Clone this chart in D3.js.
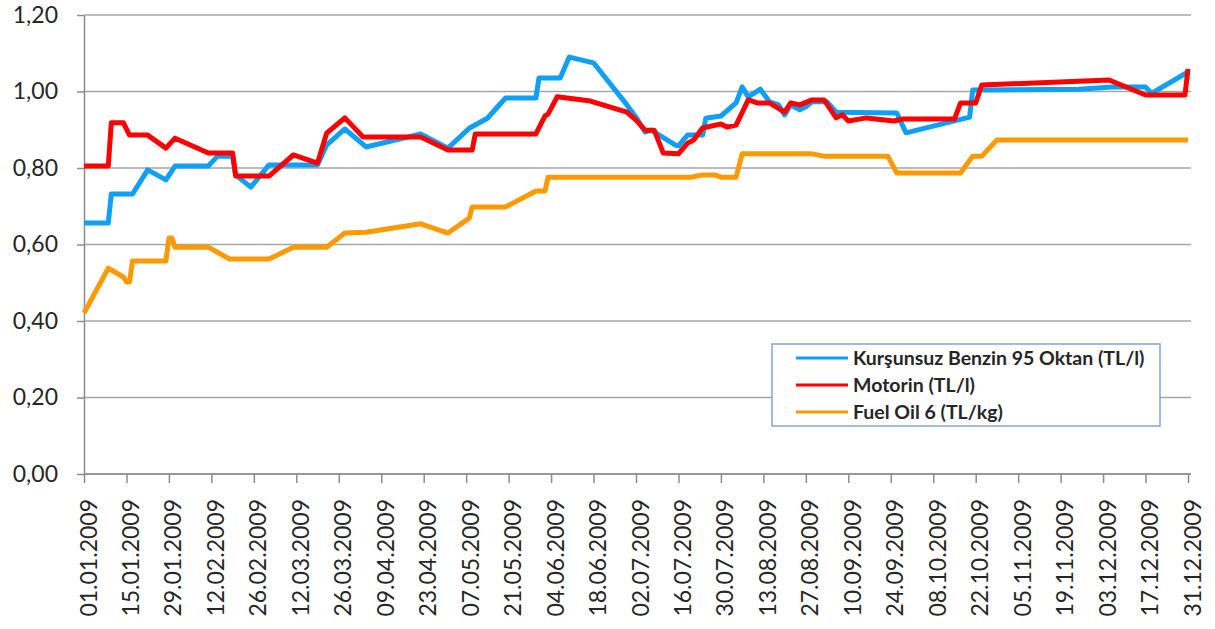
<!DOCTYPE html>
<html>
<head>
<meta charset="utf-8">
<script src="https://cdn.jsdelivr.net/npm/d3@7"></script>
<style>
    body { margin: 0; background: #fff; }
    svg { display: block; }
    text { font-family: Lato, "Open Sans", "DejaVu Sans", sans-serif; fill: #262626; }
</style>
</head>
<body>
<svg id="chart" width="1215" height="629"></svg>
<script>
/* global d3 */
var YEAR = '2009';

// Kurşunsuz Benzin 95 Oktan (TL/l)
var benzinDates = ['01.01', '09.01', '10.01', '17.01', '22.01', '28.01', '31.01', '11.02', '14.02', '19.02',
    '20.02', '25.02', '03.03', '19.03', '22.03', '28.03', '04.04', '22.04', '01.05', '08.05',
    '14.05', '20.05', '30.05', '31.05', '07.06', '10.06', '18.06', '29.06', '02.07', '05.07',
    '07.07', '15.07', '16.07', '19.07', '24.07', '25.07', '30.07', '04.08', '06.08', '08.08',
    '12.08', '15.08', '18.08', '20.08', '22.08', '25.08', '27.08', '29.08', '03.09', '06.09',
    '26.09', '29.09', '20.10', '21.10', '25.11', '06.12', '17.12', '19.12', '31.12'];
var benzinValues = [0.656, 0.656, 0.732, 0.732, 0.795, 0.769, 0.805, 0.805, 0.831, 0.831,
    0.782, 0.750, 0.808, 0.808, 0.860, 0.902, 0.855, 0.889, 0.852, 0.904,
    0.930, 0.983, 0.983, 1.035, 1.035, 1.090, 1.075, 0.965, 0.933, 0.894,
    0.899, 0.860, 0.858, 0.886, 0.886, 0.930, 0.936, 0.970, 1.012, 0.986,
    1.006, 0.973, 0.965, 0.939, 0.965, 0.952, 0.960, 0.973, 0.973, 0.946,
    0.944, 0.892, 0.933, 1.004, 1.006, 1.012, 1.012, 0.995, 1.051];

// Motorin (TL/l)
var motorinDates = ['01.01', '09.01', '10.01', '14.01', '16.01', '22.01', '28.01', '31.01', '11.02', '19.02',
    '20.02', '03.03', '11.03', '19.03', '22.03', '28.03', '03.04', '22.04', '01.05', '09.05',
    '10.05', '30.05', '02.06', '03.06', '06.06', '17.06', '29.06', '02.07', '05.07', '08.07',
    '11.07', '16.07', '19.07', '21.07', '24.07', '30.07', '01.08', '04.08', '08.08', '11.08',
    '15.08', '20.08', '22.08', '25.08', '29.08', '02.09', '06.09', '08.09', '10.09', '16.09',
    '25.09', '28.09', '15.10', '17.10', '22.10', '24.10', '05.12', '17.12', '30.12', '31.12'];
var motorinValues = [0.805, 0.805, 0.918, 0.918, 0.886, 0.886, 0.852, 0.878, 0.839, 0.839,
    0.779, 0.779, 0.834, 0.813, 0.891, 0.931, 0.881, 0.881, 0.847, 0.847,
    0.889, 0.889, 0.936, 0.941, 0.986, 0.975, 0.946, 0.925, 0.899, 0.899,
    0.839, 0.837, 0.865, 0.873, 0.905, 0.915, 0.907, 0.912, 0.978, 0.970,
    0.970, 0.946, 0.970, 0.965, 0.978, 0.978, 0.931, 0.939, 0.923, 0.931,
    0.923, 0.928, 0.928, 0.970, 0.970, 1.017, 1.030, 0.991, 0.991, 1.059];

// Fuel Oil 6 (TL/kg)
var fuelDates = ['01.01', '09.01', '14.01', '15.01', '16.01', '17.01', '28.01', '29.01', '30.01', '31.01',
    '11.02', '18.02', '03.03', '11.03', '22.03', '28.03', '04.04', '22.04', '01.05', '08.05',
    '09.05', '20.05', '30.05', '02.06', '03.06', '20.07', '24.07', '28.07', '30.07', '04.08',
    '06.08', '29.08', '02.09', '23.09', '26.09', '17.10', '21.10', '24.10', '29.10', '31.12'];
var fuelValues = [0.421, 0.538, 0.515, 0.502, 0.502, 0.557, 0.557, 0.617, 0.617, 0.593,
    0.593, 0.562, 0.562, 0.593, 0.593, 0.630, 0.632, 0.654, 0.630, 0.669,
    0.698, 0.698, 0.740, 0.740, 0.776, 0.776, 0.782, 0.782, 0.776, 0.776,
    0.837, 0.837, 0.831, 0.831, 0.787, 0.787, 0.831, 0.831, 0.873, 0.873];

var seriesNames = ['Kurşunsuz Benzin 95 Oktan (TL/l)', 'Motorin (TL/l)', 'Fuel Oil 6 (TL/kg)'];
var seriesColors = ['#0ea0f8', '#ff0000', '#ff9900'];
var yTickValues = [0, 0.2, 0.4, 0.6, 0.8, 1.0, 1.2];

var parseDate = d3.timeParse('%d.%m.%Y');

function toPoints(dates, values) {
    return dates.map(function (d, i) {
        return { date: parseDate(d + '.' + YEAR), value: values[i] };
    });
}

var series = [
    toPoints(benzinDates, benzinValues),
    toPoints(motorinDates, motorinValues),
    toPoints(fuelDates, fuelValues)
];

var plot = { left: 84, right: 1188, top: 15, bottom: 474, gridRight: 1191 };

var startDate = parseDate('01.01.' + YEAR);
var endDate = parseDate('31.12.' + YEAR);

var x = d3.scaleTime()
    .domain([startDate, endDate])
    .range([plot.left, plot.right]);

var y = d3.scaleLinear()
    .domain([0, 1.2])
    .range([plot.bottom, plot.top]);

var xTickValues = d3.range(0, 365, 14).map(function (n) {
    return d3.timeDay.offset(startDate, n);
});

var svg = d3.select('#chart');

// gridlines
svg.append('g')
    .selectAll('line')
    .data(yTickValues)
    .enter().append('line')
        .attr('x1', plot.left)
        .attr('x2', plot.gridRight)
        .attr('y1', function (d) { return y(d); })
        .attr('y2', function (d) { return y(d); })
        .attr('stroke', '#a6a6a6')
        .attr('stroke-width', 1.5);

// y axis
var yAxis = svg.append('g')
    .attr('transform', 'translate(' + plot.left + ',0)')
    .call(d3.axisLeft(y)
        .tickValues(yTickValues)
        .tickSize(7)
        .tickSizeOuter(0)
        .tickPadding(19)
        .tickFormat(function (d) { return d3.format('.2f')(d).replace('.', ','); }));
yAxis.selectAll('path, line').attr('stroke', '#8c8c8c').attr('stroke-width', 1.5);
yAxis.selectAll('text')
    .style('font-family', 'Lato, "Open Sans", sans-serif')
    .style('font-size', '23px')
    .attr('fill', '#262626');

// x axis
var xAxis = svg.append('g')
    .attr('transform', 'translate(0,' + plot.bottom + ')')
    .call(d3.axisBottom(x)
        .tickValues(xTickValues)
        .tickSize(9)
        .tickSizeOuter(0)
        .tickFormat(d3.timeFormat('%d.%m.%Y')));
xAxis.selectAll('path, line').attr('stroke', '#8c8c8c').attr('stroke-width', 1.5);
xAxis.select('.domain').attr('d', 'M' + plot.left + ',0H' + plot.gridRight);
xAxis.selectAll('text')
    .style('font-family', 'Lato, "Open Sans", sans-serif')
    .style('font-size', '23px')
    .attr('fill', '#262626')
    .attr('text-anchor', 'end')
    .attr('transform', 'rotate(-90)')
    .attr('x', -25)
    .attr('y', 12)
    .attr('dy', 0);

// lines
var line = d3.line()
    .x(function (d) { return x(d.date); })
    .y(function (d) { return y(d.value); });

svg.append('g')
    .selectAll('path')
    .data(series)
    .enter().append('path')
        .attr('d', line)
        .attr('fill', 'none')
        .attr('stroke', function (d, i) { return seriesColors[i]; })
        .attr('stroke-width', 5)
        .attr('stroke-linejoin', 'round');

// legend
var legend = svg.append('g').attr('transform', 'translate(772,344)');
legend.append('rect')
    .attr('width', 388)
    .attr('height', 82)
    .attr('fill', '#fff')
    .attr('stroke', '#86a3d4')
    .attr('stroke-width', 1.5);

var rows = legend.selectAll('g.row')
    .data(seriesNames)
    .enter().append('g')
        .attr('class', 'row')
        .attr('transform', function (d, i) { return 'translate(0,' + (14 + i * 27) + ')'; });
rows.append('line')
    .attr('x1', 24)
    .attr('x2', 76)
    .attr('stroke', function (d, i) { return seriesColors[i]; })
    .attr('stroke-width', 3);
rows.append('text')
    .attr('x', 81)
    .attr('y', 7)
    .style('font-size', '19.5px')
    .style('font-weight', 'bold')
    .text(function (d) { return d; });
</script>
</body>
</html>
